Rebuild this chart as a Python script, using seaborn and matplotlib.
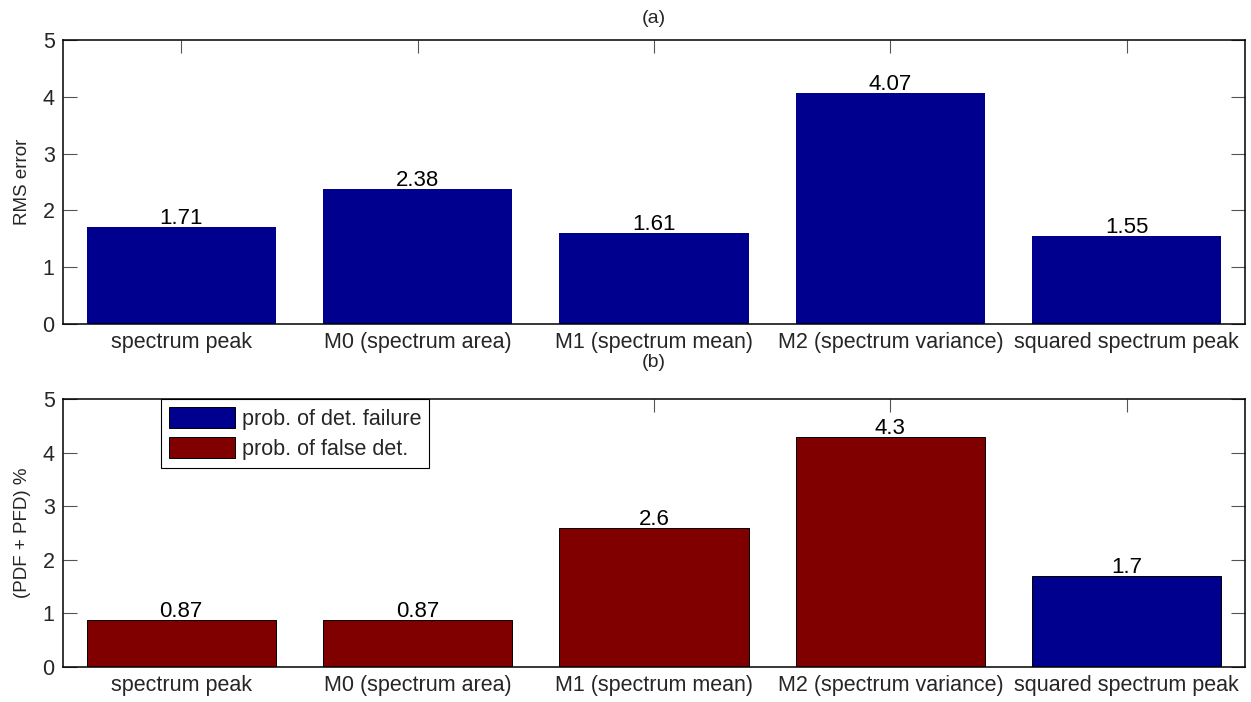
import matplotlib
matplotlib.use("Agg")
import matplotlib.pyplot as plt
import seaborn as sns
import pandas as pd

# Feature names shared by both panels
features = ["spectrum peak", "M0 (spectrum area)", "M1 (spectrum mean)",
            "M2 (spectrum variance)", "squared spectrum peak"]

# Panel (a): RMS error per feature
rms_error = [1.71, 2.38, 1.61, 4.07, 1.55]

# Panel (b): combined detection error and which error type dominates
pdf_pfd = [0.87, 0.87, 2.6, 4.3, 1.7]
error_type = ["prob. of false det.", "prob. of false det.", "prob. of false det.",
              "prob. of false det.", "prob. of det. failure"]
type_order = ["prob. of det. failure", "prob. of false det."]

BLUE = "#00008f"
RED = "#800000"

sns.set_theme(style="white")
plt.rcParams["font.family"] = ["Liberation Sans", "DejaVu Sans"]

TICK_FS = 15.5
VAL_FS = 16
TITLE_FS = 14
YLAB_FS = 13.5

fig = plt.figure(figsize=(12.51, 7.02), dpi=100)
ax_a = fig.add_axes([0.0504, 0.5385, 0.9448, 0.4045])
ax_b = fig.add_axes([0.0504, 0.0499, 0.9448, 0.3817])

df_a = pd.DataFrame({"feature": features, "rms": rms_error})
sns.barplot(data=df_a, x="feature", y="rms", color=BLUE, saturation=1,
            width=0.8, edgecolor=BLUE, linewidth=0, ax=ax_a)

df_b = pd.DataFrame({"feature": features, "value": pdf_pfd, "type": error_type})
sns.barplot(data=df_b, x="feature", y="value", hue="type", hue_order=type_order,
            palette=[BLUE, RED], saturation=1, dodge=False, width=0.8,
            edgecolor="black", linewidth=0.7, ax=ax_b)


def label_bars(ax, values):
    for i, v in enumerate(values):
        ax.text(i, v - 0.04, f"{v:g}", ha="center", va="bottom",
                fontsize=VAL_FS, color="black")


label_bars(ax_a, rms_error)
label_bars(ax_b, pdf_pfd)

for ax, ylab in [(ax_a, "RMS error"), (ax_b, "(PDF + PFD) %")]:
    ax.set_xlim(-0.5, 4.5)
    ax.set_ylim(0, 5)
    ax.set_yticks([0, 1, 2, 3, 4, 5])
    ax.set_xlabel("")
    ax.set_ylabel(ylab, fontsize=YLAB_FS, labelpad=8)
    for s in ax.spines.values():
        s.set_visible(True)
        s.set_color("black")
        s.set_linewidth(1.1)
    ax.tick_params(axis="y", which="both", direction="in", left=True, right=True,
                   length=10, width=0.8, color="#555555", labelsize=TICK_FS, pad=6)
    ax.tick_params(axis="x", which="both", direction="in", top=True, bottom=False,
                   length=9, width=0.8, color="#555555", labelsize=TICK_FS, pad=6,
                   labelbottom=True)

# Panel titles
fig.text(0.5228, 0.974, "(a)", ha="center", va="center", fontsize=TITLE_FS)
fig.text(0.5228, 0.483, "(b)", ha="center", va="center", fontsize=TITLE_FS)

leg = ax_b.legend(loc="upper left", bbox_to_anchor=(0.083, 1.0), frameon=True,
                  fancybox=False, edgecolor="black", fontsize=15.5,
                  handlelength=3.1, handleheight=1.15, handletextpad=0.3,
                  borderpad=0.35, labelspacing=0.35, borderaxespad=0.0)
leg.get_frame().set_linewidth(0.8)
leg.get_frame().set_alpha(1)

fig.savefig("out.png", dpi=100)
